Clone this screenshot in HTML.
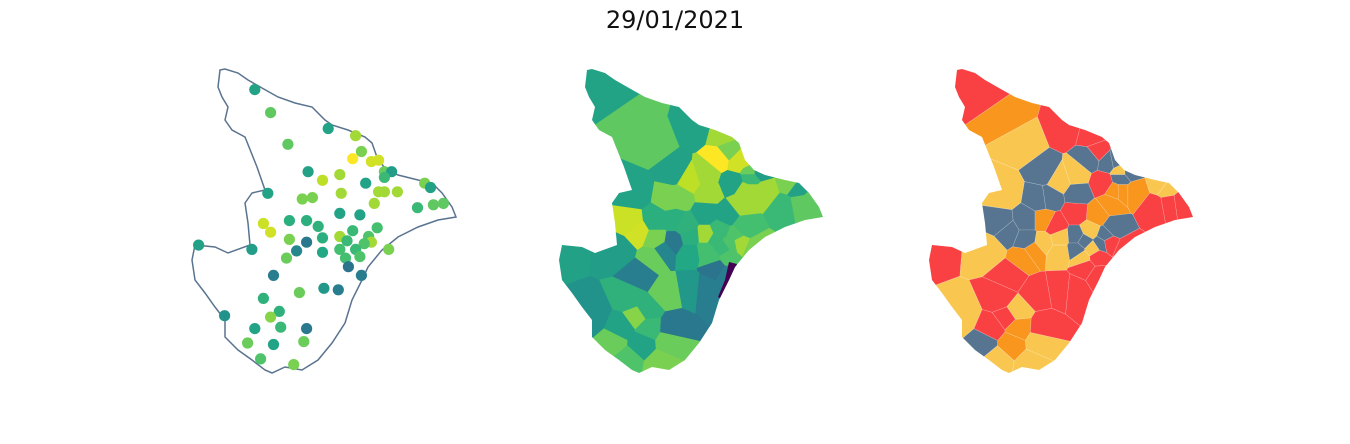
<!DOCTYPE html>
<html><head><meta charset="utf-8"><style>
html,body{margin:0;padding:0;background:#fff;}
svg{display:block;}
</style></head><body>
<svg id="chart" width="1350" height="444" viewBox="0 0 1350 444" xmlns="http://www.w3.org/2000/svg">
<text x="675" y="28" text-anchor="middle" font-family="DejaVu Sans, Liberation Sans, sans-serif" font-size="24" fill="#111">29/01/2021</text>
<defs>
<clipPath id="stateClip"><path id="clipPathShape" d=""/></clipPath>
</defs>
<g id="panel1"></g>
<g id="panel2" transform="translate(367,0)"></g>
<g id="panel3" transform="translate(737,0)"></g>
</svg>
<script>
// ---- data ----
const lons = [-37.80,-37.69,-37.29,-37.10,-37.57,-37.06,-37.12,-36.99,-36.94,-36.90,-36.85,-36.90,-37.43,-37.33,-37.21,-37.03,-36.94,-36.90,-36.81,-37.20,-36.62,-36.58,-37.71,-37.47,-37.40,-36.97,-36.67,-36.56,-36.49,-37.21,-37.07,-37.74,-37.69,-37.56,-37.44,-37.36,-36.95,-37.12,-37.01,-37.21,-37.56,-37.33,-37.44,-37.16,-36.99,-37.04,-38.19,-37.82,-37.51,-37.33,-37.21,-37.10,-37.07,-37.17,-37.58,-36.87,-37.67,-37.15,-37.06,-37.32,-37.22,-37.49,-37.74,-37.63,-38.01,-37.69,-37.80,-37.62,-37.44,-37.85,-37.67,-37.46,-37.76,-37.53];
const lats = [-9.65,-9.81,-9.92,-9.97,-10.03,-10.08,-10.13,-10.15,-10.14,-10.22,-10.22,-10.26,-10.22,-10.28,-10.24,-10.30,-10.36,-10.36,-10.36,-10.37,-10.30,-10.33,-10.37,-10.41,-10.40,-10.44,-10.47,-10.45,-10.44,-10.51,-10.52,-10.58,-10.64,-10.56,-10.56,-10.60,-10.61,-10.63,-10.67,-10.67,-10.69,-10.68,-10.71,-10.70,-10.71,-10.72,-10.73,-10.76,-10.77,-10.78,-10.76,-10.76,-10.81,-10.82,-10.82,-10.76,-10.94,-10.88,-10.94,-11.03,-11.04,-11.06,-11.10,-11.19,-11.22,-11.23,-11.31,-11.30,-11.31,-11.41,-11.42,-11.40,-11.52,-11.56];
const values = [0.58,0.75,0.58,0.86,0.75,0.80,1.00,0.93,0.93,0.77,0.55,0.67,0.57,0.90,0.86,0.58,0.86,0.86,0.86,0.86,0.80,0.57,0.58,0.80,0.80,0.86,0.67,0.75,0.75,0.58,0.58,0.92,0.93,0.63,0.63,0.64,0.70,0.67,0.72,0.86,0.80,0.63,0.40,0.67,0.86,0.72,0.57,0.55,0.46,0.60,0.70,0.67,0.72,0.70,0.77,0.80,0.42,0.38,0.42,0.53,0.42,0.77,0.64,0.64,0.51,0.82,0.58,0.67,0.40,0.77,0.58,0.77,0.72,0.80];
const categories = ["R","O","R","R","Y","R","S","S","S","Y","S","S","S","Y","Y","R","O","O","O","S","Y","Y","Y","S","S","O","R","R","R","R","O","S","S","S","O","R","S","Y","S","S","S","Y","Y","S","R","S","R","Y","O","Y","S","Y","R","Y","O","R","R","R","R","R","R","R","R","Y","Y","R","R","O","R","S","O","Y","Y","Y"];
const catColors = {R:"#f94144",O:"#f8961e",Y:"#f9c74f",S:"#577590"};

// ---- projection (panel-1 coordinates) ----
const px = lon => 190 + (lon + 38.25) * 144;
const py = lat => 68 + (-9.50 - lat) * 144;

// ---- viridis ----
const vir = ["#440154","#482475","#414487","#355f8d","#2a788e","#21918c","#22a884","#44bf70","#7ad151","#bddf26","#fde725"];
function hex(c){return [1,3,5].map(i=>parseInt(c.substr(i,2),16));}
function viridis(t){t=Math.max(0,Math.min(1,t));const f=t*10,i=Math.min(9,Math.floor(f)),u=f-i;const a=hex(vir[i]),b=hex(vir[i+1]);return "rgb("+a.map((v,k)=>Math.round(v+(b[k]-v)*u)).join(",")+")";}

// ---- state outline (panel-1 coords) ----
const outline=[[220,70],[225,69],[238,73],[248,80],[262,88],[278,97],[295,103],[312,107],[325,120],[332,125],[348,130],[365,137],[372,143],[378,160],[387,170],[398,175],[418,180],[432,183],[442,193],[452,207],[456,217],[438,220],[418,227],[398,237],[382,250],[368,267],[362,280],[352,300],[345,323],[332,343],[318,360],[302,370],[285,367],[272,373],[265,370],[252,360],[238,350],[225,337],[225,320],[215,307],[205,293],[195,280],[192,260],[195,245],[215,247],[228,253],[250,245],[248,223],[245,203],[252,193],[265,190],[257,167],[245,137],[232,130],[225,120],[228,107],[222,97],[218,87]];
const outlineD="M"+outline.map(p=>p.join(",")).join("L")+"Z";
document.getElementById("clipPathShape").setAttribute("d",outlineD);

const NS="http://www.w3.org/2000/svg";
function mk(tag,attrs,parent){const e=document.createElementNS(NS,tag);for(const k in attrs)e.setAttribute(k,attrs[k]);parent.appendChild(e);return e;}

const pts=lons.map((lo,i)=>[px(lo),py(lats[i])]);

// ---- voronoi via half-plane clipping ----
function clip(poly,a,b){
  const nx=b[0]-a[0],ny=b[1]-a[1],mx=(a[0]+b[0])/2,my=(a[1]+b[1])/2;
  const f=p=>(p[0]-mx)*nx+(p[1]-my)*ny;
  const out=[];
  for(let i=0;i<poly.length;i++){
    const P=poly[i],Q=poly[(i+1)%poly.length],fp=f(P),fq=f(Q);
    if(fp<=0)out.push(P);
    if((fp<0&&fq>0)||(fp>0&&fq<0)){const t=fp/(fp-fq);out.push([P[0]+(Q[0]-P[0])*t,P[1]+(Q[1]-P[1])*t]);}
  }
  return out;
}
const cells=pts.map((p,i)=>{let poly=[[140,40],[510,40],[510,410],[140,410]];pts.forEach((q,j)=>{if(j!==i&&poly.length)poly=clip(poly,p,q);});return poly;});
const cellD=c=>"M"+c.map(p=>p[0].toFixed(1)+","+p[1].toFixed(1)).join("L")+"Z";

// ---- panel 1 ----
const p1=document.getElementById("panel1");
const ol=mk("path",{d:outlineD,fill:"none",stroke:"#5a7390","stroke-width":"1.5"},p1);


pts.forEach((p,i)=>{
  const c=mk("circle",{cx:p[0].toFixed(1),cy:p[1].toFixed(1),r:"5.6",fill:viridis(values[i])},p1);
  
  
});

// ---- panel 2 ----
const p2=document.getElementById("panel2");
const g2=mk("g",{"clip-path":"url(#stateClip)"},p2);


cells.forEach((c,i)=>{
  const col=viridis(values[i]);
  const e=mk("path",{d:cellD(c),fill:col,stroke:col,"stroke-width":"0.6"},g2);
  
  
});
const strip=mk("path",{d:"M362,262L370,264L363,282L356,300L351,297L358,280Z",fill:"#440154"},g2);



// ---- panel 3 ----
const p3=document.getElementById("panel3");
const g3=mk("g",{"clip-path":"url(#stateClip)"},p3);


cells.forEach((c,i)=>{
  const col=catColors[categories[i]];
  const e=mk("path",{d:cellD(c),fill:col,stroke:"#ffffff","stroke-opacity":"0.25","stroke-width":"0.6"},g3);
  
  
});
</script>
</body></html>
